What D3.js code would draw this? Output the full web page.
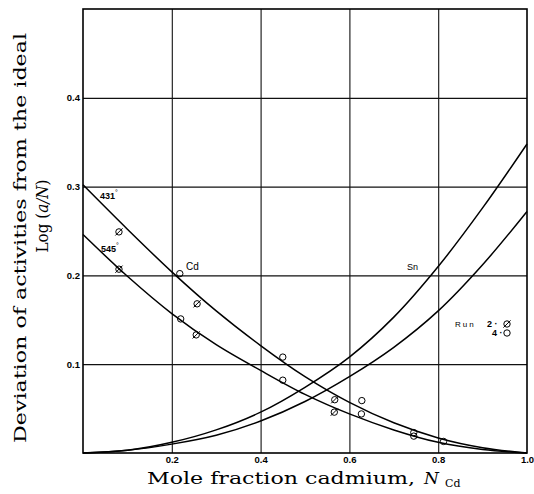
<!DOCTYPE html>
<html>
<head>
<meta charset="utf-8">
<script src="https://cdn.jsdelivr.net/npm/d3@7/dist/d3.min.js"></script>
<style>
  body { margin: 0; background: #fff; }
  .tick text { font-family: "Liberation Sans", Arial, sans-serif; font-weight: bold; font-size: 9.5px; }
</style>
</head>
<body>
<svg id="chart" width="534" height="494"></svg>
<script>
// axis ticks
const xTicks = [0.2, 0.4, 0.6, 0.8, 1.0]
const yTicks = [0.1, 0.2, 0.3, 0.4]

// smooth curves: [mole fraction Cd, log(a/N)]
const cd431 = [[0, 0.302], [0.1, 0.252], [0.2, 0.204], [0.3, 0.160], [0.4, 0.121], [0.5, 0.086],
               [0.6, 0.057], [0.7, 0.034], [0.8, 0.017], [0.9, 0.006], [1.0, 0]]
const cd545 = [[0, 0.246], [0.1, 0.199], [0.2, 0.157], [0.3, 0.122], [0.4, 0.093], [0.5, 0.066],
               [0.6, 0.044], [0.7, 0.026], [0.8, 0.012], [0.9, 0.004], [1.0, 0]]
const sn431 = [[0, 0], [0.1, 0.003], [0.2, 0.012], [0.3, 0.026], [0.4, 0.046], [0.5, 0.074],
               [0.6, 0.108], [0.7, 0.153], [0.8, 0.210], [0.9, 0.276], [1.0, 0.348]]
const sn545 = [[0, 0], [0.1, 0.003], [0.2, 0.010], [0.3, 0.020], [0.4, 0.036], [0.5, 0.058],
               [0.6, 0.086], [0.7, 0.119], [0.8, 0.160], [0.9, 0.212], [1.0, 0.272]]

// measured points
const run2 = [[0.081, 0.249], [0.257, 0.168], [0.255, 0.133], [0.567, 0.060], [0.566, 0.046]]
const run4 = [[0.218, 0.202], [0.220, 0.151], [0.450, 0.108], [0.450, 0.082], [0.628, 0.059],
              [0.627, 0.044], [0.745, 0.023], [0.745, 0.019], [0.812, 0.013]]
const runBoth = [[0.081, 0.207]]

const margin = { left: 83, top: 9, right: 7, bottom: 41 }
const width = 444, height = 444

const svg = d3.select('#chart')
const g = svg.append('g').attr('transform', `translate(${margin.left},${margin.top})`)

const x = d3.scaleLinear().domain([0, 1]).range([0, width])
const y = d3.scaleLinear().domain([0, 0.5]).range([height, 0])

// grid
g.append('g')
    .attr('transform', `translate(0,${height})`)
    .call(d3.axisBottom(x).tickValues([0.2, 0.4, 0.6, 0.8]).tickSize(-height).tickFormat(''))
    .call(a => a.select('.domain').remove())
    .selectAll('line').attr('stroke', '#111').attr('stroke-width', 1.1)
g.append('g')
    .call(d3.axisLeft(y).tickValues(yTicks).tickSize(-width).tickFormat(''))
    .call(a => a.select('.domain').remove())
    .selectAll('line').attr('stroke', '#111').attr('stroke-width', 1.2)

g.append('rect')
    .attr('width', width).attr('height', height)
    .attr('fill', 'none').attr('stroke', '#000').attr('stroke-width', 1.6)

// tick labels
g.append('g')
    .attr('transform', `translate(0,${height})`)
    .call(d3.axisBottom(x).tickValues(xTicks).tickSize(0).tickPadding(3).tickFormat(d3.format('.1f')))
    .call(a => a.select('.domain').remove())
g.append('g')
    .call(d3.axisLeft(y).tickValues(yTicks).tickSize(0).tickPadding(3).tickFormat(d3.format('.1f')))
    .call(a => a.select('.domain').remove())
g.selectAll('.tick text').attr('fill', '#000')

// curves
const line = d3.line()
    .x(d => x(d[0]))
    .y(d => y(d[1]))
    .curve(d3.curveCatmullRom.alpha(0.5))

;[cd431, cd545, sn431, sn545].forEach(c => {
    g.append('path')
        .datum(c)
        .attr('fill', 'none')
        .attr('stroke', '#000')
        .attr('stroke-width', 1.5)
        .attr('d', line)
})

// markers
const r = 3.2
function circle(sel) {
    sel.append('circle').attr('r', r).attr('fill', 'none').attr('stroke', '#000').attr('stroke-width', 1)
}
function slash(sel, flip) {
    const s = flip ? -1 : 1
    sel.append('line')
        .attr('x1', -3.6 * s).attr('y1', 3.6).attr('x2', 3.6 * s).attr('y2', -3.6)
        .attr('stroke', '#000').attr('stroke-width', 1)
}

const m2 = g.selectAll('.run2').data(run2).join('g')
    .attr('transform', d => `translate(${x(d[0])},${y(d[1])})`)
circle(m2); slash(m2)

const m4 = g.selectAll('.run4').data(run4).join('g')
    .attr('transform', d => `translate(${x(d[0])},${y(d[1])})`)
circle(m4)

const mb = g.selectAll('.runb').data(runBoth).join('g')
    .attr('transform', d => `translate(${x(d[0])},${y(d[1])})`)
circle(mb); slash(mb); slash(mb, true)

// curve labels
const small = { 'font-family': '"Liberation Sans", Arial, sans-serif', 'font-weight': 'bold', 'font-size': '9px' }
function addText(txt, px, py, attrs) {
    const t = svg.append('text').attr('x', px).attr('y', py).text(txt)
    Object.entries(attrs).forEach(([k, v]) => t.attr(k, v))
    return t
}
const t431 = addText('431', 100, 199, small)
t431.append('tspan').attr('dy', -4).attr('font-size', '7px').attr('font-weight', 'normal').text('°')
const t545 = addText('545', 101, 252, small)
t545.append('tspan').attr('dy', -4).attr('font-size', '7px').attr('font-weight', 'normal').text('°')
addText('Cd', 186, 270, { 'font-family': '"Liberation Sans", Arial, sans-serif', 'font-size': '10px' })
addText('Sn', 407, 270, { 'font-family': '"Liberation Sans", Arial, sans-serif', 'font-size': '9px' })

// legend
addText('Run', 455, 327, { 'font-family': '"Liberation Sans", Arial, sans-serif', 'font-size': '8px', 'letter-spacing': '2px' })
addText('2 ·', 487, 327, small)
addText('4 ·', 492, 336, small)
const l2 = svg.append('g').attr('transform', 'translate(507,324)')
circle(l2); slash(l2)
const l4 = svg.append('g').attr('transform', 'translate(507,333)')
circle(l4)

// axis titles
const serif = '"DejaVu Serif", "Liberation Serif", serif'
svg.append('text')
    .attr('transform', 'translate(26,238) rotate(-90)')
    .attr('text-anchor', 'middle')
    .attr('font-family', serif).attr('font-size', '17px')
    .attr('textLength', 410).attr('lengthAdjust', 'spacingAndGlyphs')
    .text('Deviation of activities from the ideal')

const yt2 = svg.append('text')
    .attr('transform', 'translate(48,216) rotate(-90)')
    .attr('text-anchor', 'middle')
    .attr('font-family', serif).attr('font-size', '17px')
    .attr('textLength', 73).attr('lengthAdjust', 'spacingAndGlyphs')
yt2.append('tspan').text('Log (')
yt2.append('tspan').attr('font-style', 'italic').text('a/N')
yt2.append('tspan').text(')')

svg.append('text')
    .attr('x', 147).attr('y', 484)
    .attr('font-family', serif).attr('font-size', '17px')
    .attr('textLength', 268).attr('lengthAdjust', 'spacingAndGlyphs')
    .text('Mole fraction cadmium,')
svg.append('text')
    .attr('x', 424).attr('y', 484)
    .attr('font-family', serif).attr('font-size', '17px').attr('font-style', 'italic')
    .text('N')
svg.append('text')
    .attr('x', 445).attr('y', 487)
    .attr('font-family', serif).attr('font-size', '11px')
    .text('Cd')
</script>
</body>
</html>
